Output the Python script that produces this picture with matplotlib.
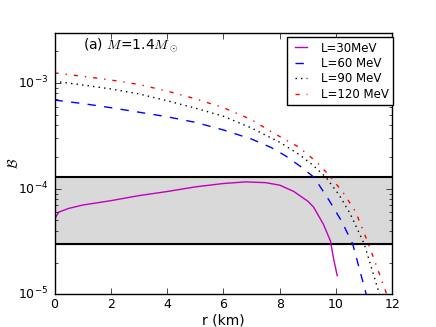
import matplotlib
matplotlib.use('Agg')
import matplotlib.pyplot as plt

r30 = [0.0, 0.03, 0.15, 0.5, 1.0, 2.0, 3.0, 4.0, 5.0, 6.0, 6.8, 7.5, 8.0, 8.5, 9.0, 9.2, 9.55, 9.8, 9.9, 10.04]
b30 = [4.0e-5, 5.3e-5, 6.0e-5, 6.5e-5, 7.0e-5, 7.7e-5, 8.6e-5, 9.4e-5, 1.04e-4, 1.12e-4, 1.16e-4, 1.14e-4, 1.08e-4, 9.4e-5, 7.6e-5, 6.7e-5, 4.6e-5, 3.2e-5, 2.25e-5, 1.5e-5]

r60 = [0.0, 1.0, 2.0, 3.0, 4.0, 5.0, 6.0, 7.0, 7.7, 8.2, 8.7, 9.22, 9.76, 10.2, 10.59, 11.07]
b60 = [6.9e-4, 6.4e-4, 5.85e-4, 5.3e-4, 4.8e-4, 4.25e-4, 3.6e-4, 2.95e-4, 2.45e-4, 2.05e-4, 1.65e-4, 1.28e-4, 7.7e-5, 4.9e-5, 3.0e-5, 1.0e-5]

r90 = [0.0, 1.0, 2.0, 3.0, 4.0, 5.0, 6.0, 7.0, 8.0, 8.7, 9.2, 9.64, 10.1, 10.5, 11.0, 11.54]
b90 = [1.04e-3, 9.6e-4, 8.8e-4, 7.9e-4, 6.8e-4, 5.8e-4, 4.85e-4, 3.75e-4, 2.75e-4, 2.1e-4, 1.65e-4, 1.28e-4, 8.8e-5, 5.8e-5, 3.0e-5, 1.0e-5]

r120 = [0.0, 1.0, 2.0, 3.0, 4.0, 5.0, 6.0, 7.0, 7.83, 8.65, 9.3, 9.82, 10.3, 10.7, 11.15, 11.8]
b120 = [1.25e-3, 1.16e-3, 1.07e-3, 9.7e-4, 8.4e-4, 7.1e-4, 5.85e-4, 4.5e-4, 3.3e-4, 2.5e-4, 1.8e-4, 1.28e-4, 8.8e-5, 6.0e-5, 3.0e-5, 1.0e-5]

band_low = 3.0e-5
band_high = 1.3e-4

plt.style.use('classic')
plt.rcParams['font.size'] = 9
plt.rcParams['legend.fontsize'] = 8.5
plt.rcParams['xtick.major.pad'] = 2.5
plt.rcParams['ytick.major.pad'] = 4.5

fig = plt.figure(figsize=(4.36, 3.27), dpi=100)
ax = fig.add_subplot(111)

ax.axhspan(band_low, band_high, color='0.85', zorder=0)
ax.axhline(band_low, color='k', lw=1.5)
ax.axhline(band_high, color='k', lw=1.5)

ax.plot(r30, b30, 'm-', label='L=30MeV')
ax.plot(r60, b60, 'b--', label='L=60 MeV')
ax.plot(r90, b90, 'k:', label='L=90 MeV')
ax.plot(r120, b120, 'r-.', label='L=120 MeV')

ax.set_yscale('log')
ax.set_xlim(0, 12)
ax.set_ylim(1e-5, 3e-3)
ax.set_xlabel('r (km)', fontsize=10, labelpad=2)
ax.set_ylabel(r'$\mathcal{B}$', fontsize=10, labelpad=-2)
ax.text(0.085, 0.953, r'(a) $M$=1.4$M_\odot$', transform=ax.transAxes, va='center',
        fontsize=10)
ax.legend(loc='upper right', bbox_to_anchor=(1.003, 0.984), borderaxespad=0,
          handlelength=1.6, handletextpad=0.9, labelspacing=0.2)

fig.savefig('out.png', dpi=100)
